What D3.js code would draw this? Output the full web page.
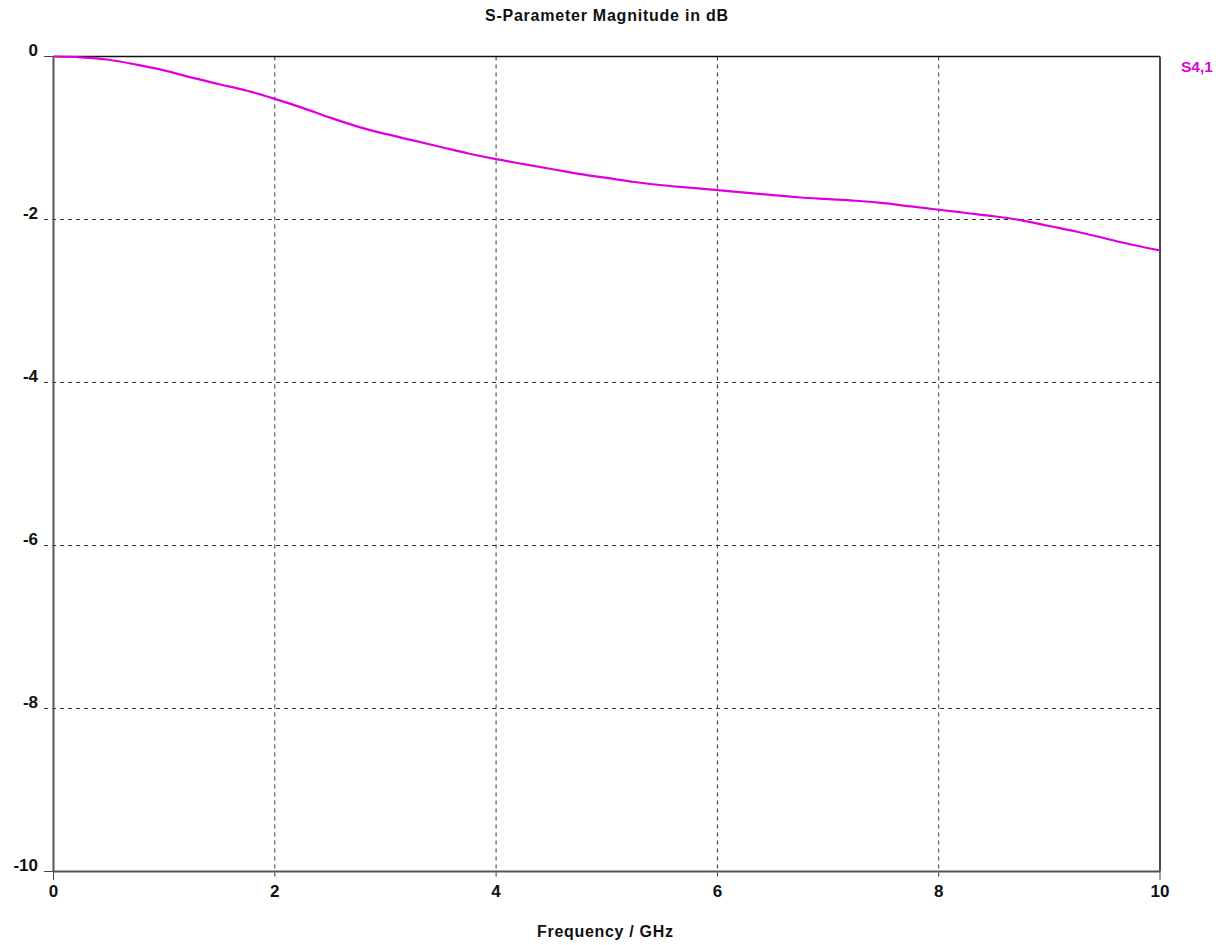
<!DOCTYPE html>
<html><head><meta charset="utf-8">
<script src="https://cdn.jsdelivr.net/npm/d3@7"></script>
<style>
html,body{margin:0;padding:0;background:#fff;}
text{font-family:"Liberation Sans",Arial,sans-serif;font-weight:bold;}
</style></head>
<body><svg id="c" width="1222" height="945"></svg>
<script>
const freqGHz = [0,0.25,0.5,0.75,1,1.25,1.5,1.75,2,2.25,2.5,2.75,3,3.25,3.5,3.75,4,4.25,4.5,4.75,5,5.25,5.5,5.75,6,6.25,6.5,6.75,7,7.25,7.5,7.75,8,8.25,8.5,8.75,9,9.25,9.5,9.75,10];
const s41dB = [0,-0.01,-0.04,-0.10,-0.17,-0.26,-0.34,-0.42,-0.52,-0.63,-0.75,-0.86,-0.95,-1.03,-1.11,-1.19,-1.26,-1.32,-1.38,-1.44,-1.49,-1.54,-1.58,-1.61,-1.64,-1.67,-1.70,-1.73,-1.75,-1.77,-1.80,-1.84,-1.88,-1.92,-1.96,-2.01,-2.08,-2.15,-2.23,-2.31,-2.38];
const xTicks = [0,2,4,6,8,10];
const yTicks = [0,-2,-4,-6,-8,-10];
const seriesName = "S4,1";
const title = "S-Parameter Magnitude in dB";
const xLabel = "Frequency / GHz";

const svg = d3.select("#c");
const L=53.5, R=1160, T=56.5, B=871.5;
const x = d3.scaleLinear().domain([0,10]).range([L,R]);
const y = d3.scaleLinear().domain([-10,0]).range([B,T]);

// grid lines
const g = svg.append("g");
yTicks.forEach(v=>{
  const inner = v!==0 && v!==-10;
  g.append("line").attr("x1",44).attr("x2",inner?R:L).attr("y1",y(v)).attr("y2",y(v))
   .attr("stroke", inner?"#333":"#444").attr("stroke-width",1)
   .attr("stroke-dasharray", inner?"4,4":null);
});
xTicks.forEach(v=>{
  const inner = v!==0 && v!==10;
  g.append("line").attr("x1",x(v)).attr("x2",x(v)).attr("y1",inner?T:B).attr("y2",880)
   .attr("stroke", inner?"#333":"#444").attr("stroke-width",1)
   .attr("stroke-dasharray", inner?"4,4":null);
});
// frame
svg.append("line").attr("x1",L).attr("x2",R).attr("y1",T).attr("y2",T).attr("stroke","#111").attr("stroke-width",1.5);
svg.append("line").attr("x1",R).attr("x2",R).attr("y1",T).attr("y2",B).attr("stroke","#111").attr("stroke-width",1.5);
svg.append("line").attr("x1",L).attr("x2",L).attr("y1",T).attr("y2",B).attr("stroke","#555").attr("stroke-width",2);
svg.append("line").attr("x1",L).attr("x2",R).attr("y1",B).attr("y2",B).attr("stroke","#555").attr("stroke-width",2);

// tick labels
yTicks.forEach(v=>{
  svg.append("text").attr("x",38).attr("y",y(v)-0.5).attr("text-anchor","end")
   .attr("font-size",17).attr("fill","#111").text(String(v));
});
xTicks.forEach(v=>{
  svg.append("text").attr("x",x(v)).attr("y",897).attr("text-anchor","middle")
   .attr("font-size",17).attr("fill","#111").text(String(v));
});

// curve
const line = d3.line().x((d,i)=>x(freqGHz[i])).y(d=>y(d)).curve(d3.curveMonotoneX);
svg.append("path").datum(s41dB).attr("d",line).attr("fill","none")
  .attr("stroke","#dd00dd").attr("stroke-width",2.2);

// titles
svg.append("text").attr("x",485).attr("y",21).attr("font-size",16).attr("fill","#111")
  .attr("textLength",243).attr("lengthAdjust","spacing").text(title);
svg.append("text").attr("x",537).attr("y",937).attr("font-size",16).attr("fill","#111")
  .attr("textLength",136).attr("lengthAdjust","spacing").text(xLabel);
svg.append("text").attr("x",1181).attr("y",72).attr("font-size",15.5).attr("fill","#dd00dd")
  .text(seriesName);
</script></body></html>
